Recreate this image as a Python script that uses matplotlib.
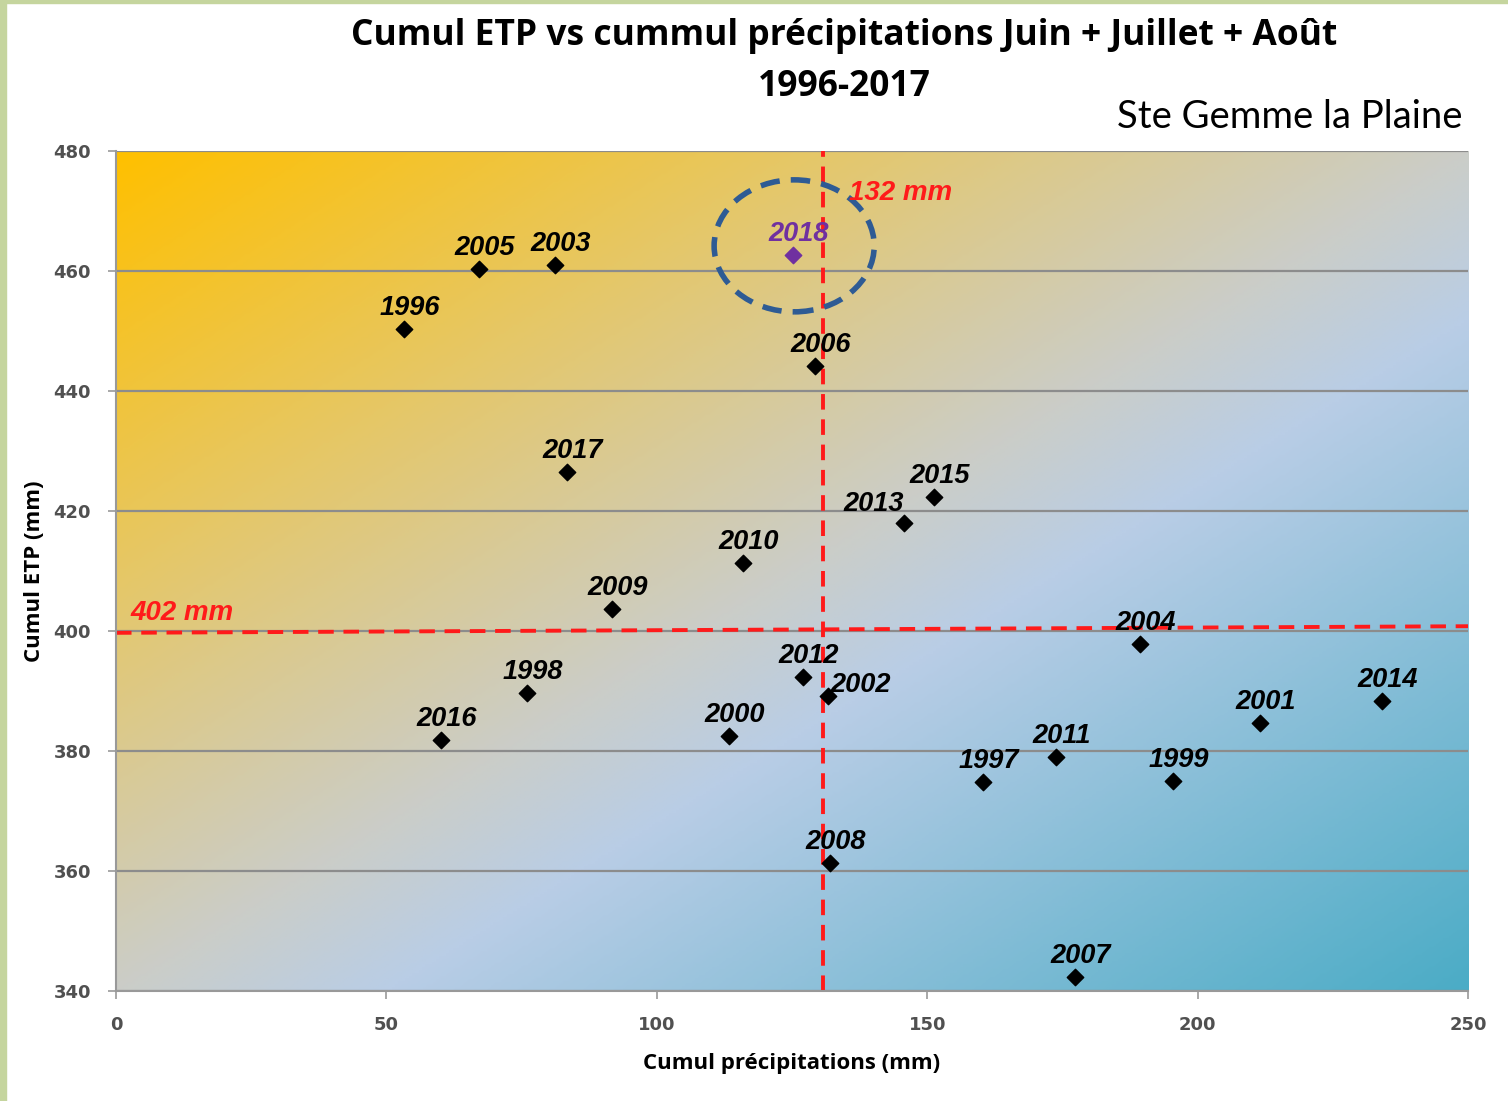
import numpy as np
import matplotlib.pyplot as plt
from matplotlib.colors import LinearSegmentedColormap
from matplotlib.patches import Ellipse, Rectangle

# données (cumul précipitations juin-août, cumul ETP)
annees = ["1996", "2005", "2003", "2006", "2017", "2015", "2013", "2010", "2009",
          "2004", "2012", "2002", "1998", "2014", "2016", "2000", "2001", "2011",
          "1997", "1999", "2008", "2007"]
precip = [53.3, 67.1, 81.2, 129.3, 83.4, 151.3, 145.7, 115.9, 91.7,
          189.3, 127.0, 131.7, 76.0, 234.1, 60.1, 113.4, 211.5, 173.8,
          160.3, 195.5, 132.0, 177.3]
etp = [450.3, 460.3, 461.0, 444.2, 426.5, 422.3, 418.0, 411.3, 403.7,
       397.8, 392.3, 389.2, 389.7, 388.3, 381.8, 382.5, 384.7, 379.0,
       374.8, 375.0, 361.3, 342.3]

# point 2018
annee_2018 = "2018"
precip_2018 = 125.2
etp_2018 = 462.7

# moyennes (lignes rouges)
moy_precip = 130.7
moy_etp_x = [0, 250]
moy_etp_y = [399.7, 400.8]

fig = plt.figure(figsize=(15.08, 11.01), dpi=100)
ax = fig.add_axes([0.0769, 0.0999, 0.8966, 0.7629])

# fond dégradé orange -> gris -> bleu
cmap = LinearSegmentedColormap.from_list("fond", [
    (0.0, "#FFC000"), (0.25, "#E6C765"), (0.5, "#CBCDC8"),
    (0.6, "#B9CDE6"), (1.0, "#4BACC6")])
u = np.linspace(0, 1, 400)
w = np.linspace(0, 1, 300)
U, W = np.meshgrid(u, w)
ax.imshow((U + W) / 2, cmap=cmap, extent=[0, 250, 340, 480], aspect="auto",
          origin="upper", zorder=0, interpolation="bilinear")

ax.set_xlim(0, 250)
ax.set_ylim(340, 480)
ax.set_xticks([0, 50, 100, 150, 200, 250])
ax.set_yticks(range(340, 481, 20))
ax.grid(axis="y", color="#8C8C8C", lw=1.6, zorder=1)
for s in ["top", "right"]:
    ax.spines[s].set_visible(False)
for s in ["left", "bottom"]:
    ax.spines[s].set_color("#999999")
    ax.spines[s].set_linewidth(1.5)
ax.tick_params(colors="#999999", length=6, width=1.2, labelcolor="#505050",
               labelsize=13, pad=12)
for t in ax.get_xticklabels() + ax.get_yticklabels():
    t.set_fontweight("bold")

ax.set_xlabel("Cumul précipitations (mm)", fontsize=16, fontweight="bold",
              family="Open Sans", labelpad=14)
ax.set_ylabel("Cumul ETP (mm)", fontsize=16, fontweight="bold",
              family="Open Sans", labelpad=6)

# lignes moyennes
ax.axvline(moy_precip, color="#FF1A1A", lw=2.8, ls=(0, (4, 2.5)), zorder=2)
ax.plot(moy_etp_x, moy_etp_y, color="#FF1A1A", lw=2.8, ls=(0, (4, 2.5)), zorder=2)

# points
ax.scatter(precip, etp, marker="D", s=70, color="black", zorder=4)
ax.scatter([precip_2018], [etp_2018], marker="D", s=70, color="#7030A0", zorder=4)

decalages = {"2002": (23, 8), "2013": (-22, 14)}
for a, x, y in zip(annees, precip, etp):
    dx, dy = decalages.get(a, (4, 15))
    ax.annotate(a, (x, y), xytext=(dx, dy), textcoords="offset points",
                ha="center", va="center", fontsize=19.5, fontweight="bold",
                style="italic", family="Liberation Sans", color="black", zorder=5)
ax.annotate(annee_2018, (precip_2018, etp_2018), xytext=(4, 15),
            textcoords="offset points", ha="center", va="center", fontsize=19.5,
            fontweight="bold", style="italic", family="Liberation Sans",
            color="#7030A0", zorder=5)

# ellipse autour de 2018
ax.add_patch(Ellipse((125.4, 464.2), 29.6, 22, fill=False, ec="#2E5B94",
                     lw=4, ls=(0, (3.5, 2)), zorder=3))

ax.text(135.5, 473, "132 mm", color="#FF1A1A", fontsize=20, fontweight="bold",
        style="italic", family="Liberation Sans", va="center", zorder=5)
ax.text(2.7, 403, "402 mm", color="#FF1A1A", fontsize=20, fontweight="bold",
        style="italic", family="Liberation Sans", va="center", zorder=5)

# titres
fig.text(0.560, 0.967, "Cumul ETP vs cummul précipitations Juin + Juillet + Août",
         ha="center", va="center", fontsize=25.5, fontweight="bold", family="Open Sans")
fig.text(0.560, 0.921, "1996-2017", ha="center", va="center", fontsize=25.5,
         fontweight="bold", family="Open Sans")
fig.text(0.970, 0.894, "Ste Gemme la Plaine", ha="right", va="center",
         fontsize=27.5, family="Lato")

# cadre vert
fig.patches.append(Rectangle((0, 0.997), 1, 0.003, transform=fig.transFigure,
                             color="#C5D59E", zorder=0))
fig.patches.append(Rectangle((0, 0), 0.004, 1, transform=fig.transFigure,
                             color="#C5D59E", zorder=0))

fig.savefig("out.png", dpi=100)
